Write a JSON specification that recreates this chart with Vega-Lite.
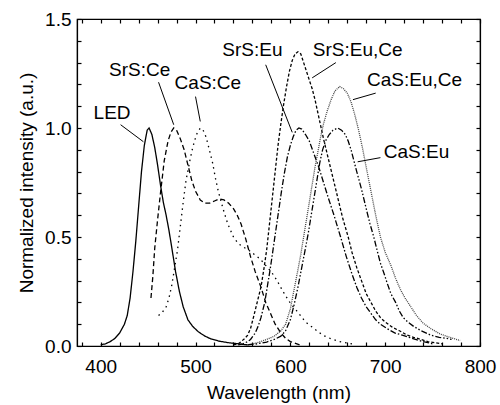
{
  "$schema": "https://vega.github.io/schema/vega-lite/v6.json",
  "width": 403,
  "height": 327,
  "autosize": {"type": "none"},
  "padding": {"left": 77, "top": 19, "right": 20, "bottom": 59},
  "background": "white",
  "config": {
    "view": {"stroke": "black", "strokeWidth": 1.2},
    "axis": {
      "grid": false,
      "labelFont": "Liberation Sans",
      "labelFontSize": 19,
      "labelColor": "black",
      "titleFont": "Liberation Sans",
      "titleFontSize": 19,
      "titleFontWeight": "normal",
      "titleColor": "black",
      "domainColor": "black",
      "domainWidth": 1.2,
      "tickColor": "black",
      "tickWidth": 1.2,
      "tickSize": -4
    },
    "text": {"font": "Liberation Sans", "fontSize": 19, "color": "black"}
  },
  "datasets": {
    "curves": [
      {"s": "LED", "w": 400, "v": 0.005}, {"s": "LED", "w": 405, "v": 0.01}, {"s": "LED", "w": 410, "v": 0.02}, {"s": "LED", "w": 415, "v": 0.035}, {"s": "LED", "w": 420, "v": 0.06}, {"s": "LED", "w": 425, "v": 0.1}, {"s": "LED", "w": 428, "v": 0.14}, {"s": "LED", "w": 431, "v": 0.22}, {"s": "LED", "w": 434, "v": 0.34}, {"s": "LED", "w": 437, "v": 0.48}, {"s": "LED", "w": 440, "v": 0.64}, {"s": "LED", "w": 443, "v": 0.8}, {"s": "LED", "w": 446, "v": 0.92}, {"s": "LED", "w": 449, "v": 0.99}, {"s": "LED", "w": 451, "v": 1.0}, {"s": "LED", "w": 454, "v": 0.97}, {"s": "LED", "w": 457, "v": 0.91}, {"s": "LED", "w": 460, "v": 0.83}, {"s": "LED", "w": 463, "v": 0.74}, {"s": "LED", "w": 466, "v": 0.66}, {"s": "LED", "w": 469, "v": 0.6}, {"s": "LED", "w": 472, "v": 0.53}, {"s": "LED", "w": 475, "v": 0.45}, {"s": "LED", "w": 479, "v": 0.34}, {"s": "LED", "w": 483, "v": 0.25}, {"s": "LED", "w": 487, "v": 0.18}, {"s": "LED", "w": 492, "v": 0.12}, {"s": "LED", "w": 497, "v": 0.09}, {"s": "LED", "w": 503, "v": 0.065}, {"s": "LED", "w": 510, "v": 0.045}, {"s": "LED", "w": 516, "v": 0.033}, {"s": "LED", "w": 525, "v": 0.022}, {"s": "LED", "w": 535, "v": 0.015}, {"s": "LED", "w": 545, "v": 0.01}, {"s": "LED", "w": 555, "v": 0.005},

      {"s": "SrS:Ce", "w": 453, "v": 0.22}, {"s": "SrS:Ce", "w": 455, "v": 0.32}, {"s": "SrS:Ce", "w": 457, "v": 0.45}, {"s": "SrS:Ce", "w": 460, "v": 0.58}, {"s": "SrS:Ce", "w": 463, "v": 0.7}, {"s": "SrS:Ce", "w": 467, "v": 0.85}, {"s": "SrS:Ce", "w": 471, "v": 0.94}, {"s": "SrS:Ce", "w": 474, "v": 0.98}, {"s": "SrS:Ce", "w": 477, "v": 1.0}, {"s": "SrS:Ce", "w": 480, "v": 0.99}, {"s": "SrS:Ce", "w": 484, "v": 0.95}, {"s": "SrS:Ce", "w": 488, "v": 0.9}, {"s": "SrS:Ce", "w": 492, "v": 0.83}, {"s": "SrS:Ce", "w": 496, "v": 0.76}, {"s": "SrS:Ce", "w": 500, "v": 0.71}, {"s": "SrS:Ce", "w": 505, "v": 0.67}, {"s": "SrS:Ce", "w": 510, "v": 0.655}, {"s": "SrS:Ce", "w": 515, "v": 0.655}, {"s": "SrS:Ce", "w": 520, "v": 0.665}, {"s": "SrS:Ce", "w": 525, "v": 0.675}, {"s": "SrS:Ce", "w": 530, "v": 0.67}, {"s": "SrS:Ce", "w": 535, "v": 0.655}, {"s": "SrS:Ce", "w": 540, "v": 0.63}, {"s": "SrS:Ce", "w": 544, "v": 0.6}, {"s": "SrS:Ce", "w": 548, "v": 0.56}, {"s": "SrS:Ce", "w": 553, "v": 0.49}, {"s": "SrS:Ce", "w": 558, "v": 0.41}, {"s": "SrS:Ce", "w": 563, "v": 0.34}, {"s": "SrS:Ce", "w": 569, "v": 0.27}, {"s": "SrS:Ce", "w": 574, "v": 0.2}, {"s": "SrS:Ce", "w": 579, "v": 0.15}, {"s": "SrS:Ce", "w": 584, "v": 0.1}, {"s": "SrS:Ce", "w": 590, "v": 0.06}, {"s": "SrS:Ce", "w": 595, "v": 0.035}, {"s": "SrS:Ce", "w": 600, "v": 0.02}, {"s": "SrS:Ce", "w": 610, "v": 0.005},

      {"s": "CaS:Ce", "w": 461, "v": 0.14}, {"s": "CaS:Ce", "w": 465, "v": 0.155}, {"s": "CaS:Ce", "w": 469, "v": 0.18}, {"s": "CaS:Ce", "w": 472, "v": 0.22}, {"s": "CaS:Ce", "w": 475, "v": 0.28}, {"s": "CaS:Ce", "w": 478, "v": 0.36}, {"s": "CaS:Ce", "w": 481, "v": 0.44}, {"s": "CaS:Ce", "w": 484, "v": 0.55}, {"s": "CaS:Ce", "w": 487, "v": 0.66}, {"s": "CaS:Ce", "w": 490, "v": 0.76}, {"s": "CaS:Ce", "w": 494, "v": 0.85}, {"s": "CaS:Ce", "w": 497, "v": 0.91}, {"s": "CaS:Ce", "w": 501, "v": 0.97}, {"s": "CaS:Ce", "w": 505, "v": 1.0}, {"s": "CaS:Ce", "w": 508, "v": 0.99}, {"s": "CaS:Ce", "w": 511, "v": 0.96}, {"s": "CaS:Ce", "w": 514, "v": 0.91}, {"s": "CaS:Ce", "w": 518, "v": 0.84}, {"s": "CaS:Ce", "w": 521, "v": 0.77}, {"s": "CaS:Ce", "w": 524, "v": 0.71}, {"s": "CaS:Ce", "w": 529, "v": 0.63}, {"s": "CaS:Ce", "w": 534, "v": 0.56}, {"s": "CaS:Ce", "w": 540, "v": 0.5}, {"s": "CaS:Ce", "w": 545, "v": 0.47}, {"s": "CaS:Ce", "w": 550, "v": 0.455}, {"s": "CaS:Ce", "w": 556, "v": 0.44}, {"s": "CaS:Ce", "w": 562, "v": 0.42}, {"s": "CaS:Ce", "w": 568, "v": 0.4}, {"s": "CaS:Ce", "w": 574, "v": 0.37}, {"s": "CaS:Ce", "w": 580, "v": 0.34}, {"s": "CaS:Ce", "w": 586, "v": 0.3}, {"s": "CaS:Ce", "w": 591, "v": 0.26}, {"s": "CaS:Ce", "w": 595, "v": 0.23}, {"s": "CaS:Ce", "w": 601, "v": 0.19}, {"s": "CaS:Ce", "w": 607, "v": 0.16}, {"s": "CaS:Ce", "w": 616, "v": 0.11}, {"s": "CaS:Ce", "w": 625, "v": 0.08}, {"s": "CaS:Ce", "w": 634, "v": 0.05}, {"s": "CaS:Ce", "w": 642, "v": 0.035}, {"s": "CaS:Ce", "w": 652, "v": 0.02}, {"s": "CaS:Ce", "w": 665, "v": 0.01},

      {"s": "SrS:Eu", "w": 545, "v": 0.005}, {"s": "SrS:Eu", "w": 550, "v": 0.01}, {"s": "SrS:Eu", "w": 555, "v": 0.02}, {"s": "SrS:Eu", "w": 558, "v": 0.03}, {"s": "SrS:Eu", "w": 563, "v": 0.06}, {"s": "SrS:Eu", "w": 566, "v": 0.09}, {"s": "SrS:Eu", "w": 569, "v": 0.13}, {"s": "SrS:Eu", "w": 573, "v": 0.2}, {"s": "SrS:Eu", "w": 576, "v": 0.28}, {"s": "SrS:Eu", "w": 579, "v": 0.36}, {"s": "SrS:Eu", "w": 582, "v": 0.45}, {"s": "SrS:Eu", "w": 585, "v": 0.54}, {"s": "SrS:Eu", "w": 588, "v": 0.63}, {"s": "SrS:Eu", "w": 591, "v": 0.72}, {"s": "SrS:Eu", "w": 594, "v": 0.8}, {"s": "SrS:Eu", "w": 597, "v": 0.87}, {"s": "SrS:Eu", "w": 600, "v": 0.92}, {"s": "SrS:Eu", "w": 603, "v": 0.96}, {"s": "SrS:Eu", "w": 606, "v": 0.99}, {"s": "SrS:Eu", "w": 609, "v": 1.0}, {"s": "SrS:Eu", "w": 612, "v": 0.995}, {"s": "SrS:Eu", "w": 616, "v": 0.97}, {"s": "SrS:Eu", "w": 620, "v": 0.94}, {"s": "SrS:Eu", "w": 625, "v": 0.88}, {"s": "SrS:Eu", "w": 630, "v": 0.82}, {"s": "SrS:Eu", "w": 635, "v": 0.75}, {"s": "SrS:Eu", "w": 640, "v": 0.68}, {"s": "SrS:Eu", "w": 646, "v": 0.6}, {"s": "SrS:Eu", "w": 653, "v": 0.5}, {"s": "SrS:Eu", "w": 659, "v": 0.41}, {"s": "SrS:Eu", "w": 665, "v": 0.33}, {"s": "SrS:Eu", "w": 670, "v": 0.27}, {"s": "SrS:Eu", "w": 675, "v": 0.22}, {"s": "SrS:Eu", "w": 680, "v": 0.18}, {"s": "SrS:Eu", "w": 685, "v": 0.15}, {"s": "SrS:Eu", "w": 690, "v": 0.12}, {"s": "SrS:Eu", "w": 695, "v": 0.1}, {"s": "SrS:Eu", "w": 702, "v": 0.08}, {"s": "SrS:Eu", "w": 710, "v": 0.06}, {"s": "SrS:Eu", "w": 718, "v": 0.05}, {"s": "SrS:Eu", "w": 725, "v": 0.04}, {"s": "SrS:Eu", "w": 732, "v": 0.03}, {"s": "SrS:Eu", "w": 740, "v": 0.02}, {"s": "SrS:Eu", "w": 750, "v": 0.01},

      {"s": "SrS:Eu,Ce", "w": 540, "v": 0.005}, {"s": "SrS:Eu,Ce", "w": 545, "v": 0.01}, {"s": "SrS:Eu,Ce", "w": 548, "v": 0.02}, {"s": "SrS:Eu,Ce", "w": 552, "v": 0.035}, {"s": "SrS:Eu,Ce", "w": 555, "v": 0.05}, {"s": "SrS:Eu,Ce", "w": 558, "v": 0.08}, {"s": "SrS:Eu,Ce", "w": 561, "v": 0.13}, {"s": "SrS:Eu,Ce", "w": 565, "v": 0.2}, {"s": "SrS:Eu,Ce", "w": 569, "v": 0.27}, {"s": "SrS:Eu,Ce", "w": 572, "v": 0.35}, {"s": "SrS:Eu,Ce", "w": 575, "v": 0.44}, {"s": "SrS:Eu,Ce", "w": 578, "v": 0.56}, {"s": "SrS:Eu,Ce", "w": 581, "v": 0.68}, {"s": "SrS:Eu,Ce", "w": 584, "v": 0.8}, {"s": "SrS:Eu,Ce", "w": 587, "v": 0.92}, {"s": "SrS:Eu,Ce", "w": 590, "v": 1.02}, {"s": "SrS:Eu,Ce", "w": 593, "v": 1.11}, {"s": "SrS:Eu,Ce", "w": 596, "v": 1.19}, {"s": "SrS:Eu,Ce", "w": 599, "v": 1.26}, {"s": "SrS:Eu,Ce", "w": 602, "v": 1.31}, {"s": "SrS:Eu,Ce", "w": 605, "v": 1.34}, {"s": "SrS:Eu,Ce", "w": 608, "v": 1.35}, {"s": "SrS:Eu,Ce", "w": 611, "v": 1.34}, {"s": "SrS:Eu,Ce", "w": 614, "v": 1.3}, {"s": "SrS:Eu,Ce", "w": 617, "v": 1.26}, {"s": "SrS:Eu,Ce", "w": 620, "v": 1.22}, {"s": "SrS:Eu,Ce", "w": 623, "v": 1.18}, {"s": "SrS:Eu,Ce", "w": 626, "v": 1.13}, {"s": "SrS:Eu,Ce", "w": 629, "v": 1.07}, {"s": "SrS:Eu,Ce", "w": 632, "v": 1.01}, {"s": "SrS:Eu,Ce", "w": 635, "v": 0.95}, {"s": "SrS:Eu,Ce", "w": 640, "v": 0.86}, {"s": "SrS:Eu,Ce", "w": 645, "v": 0.77}, {"s": "SrS:Eu,Ce", "w": 650, "v": 0.68}, {"s": "SrS:Eu,Ce", "w": 655, "v": 0.59}, {"s": "SrS:Eu,Ce", "w": 661, "v": 0.5}, {"s": "SrS:Eu,Ce", "w": 665, "v": 0.43}, {"s": "SrS:Eu,Ce", "w": 670, "v": 0.36}, {"s": "SrS:Eu,Ce", "w": 675, "v": 0.3}, {"s": "SrS:Eu,Ce", "w": 680, "v": 0.24}, {"s": "SrS:Eu,Ce", "w": 685, "v": 0.2}, {"s": "SrS:Eu,Ce", "w": 690, "v": 0.16}, {"s": "SrS:Eu,Ce", "w": 695, "v": 0.13}, {"s": "SrS:Eu,Ce", "w": 700, "v": 0.11}, {"s": "SrS:Eu,Ce", "w": 708, "v": 0.085}, {"s": "SrS:Eu,Ce", "w": 715, "v": 0.07}, {"s": "SrS:Eu,Ce", "w": 723, "v": 0.05}, {"s": "SrS:Eu,Ce", "w": 730, "v": 0.04}, {"s": "SrS:Eu,Ce", "w": 738, "v": 0.03}, {"s": "SrS:Eu,Ce", "w": 745, "v": 0.02}, {"s": "SrS:Eu,Ce", "w": 760, "v": 0.01},

      {"s": "CaS:Eu,Ce", "w": 555, "v": 0.005}, {"s": "CaS:Eu,Ce", "w": 565, "v": 0.015}, {"s": "CaS:Eu,Ce", "w": 575, "v": 0.03}, {"s": "CaS:Eu,Ce", "w": 583, "v": 0.045}, {"s": "CaS:Eu,Ce", "w": 590, "v": 0.07}, {"s": "CaS:Eu,Ce", "w": 595, "v": 0.1}, {"s": "CaS:Eu,Ce", "w": 600, "v": 0.17}, {"s": "CaS:Eu,Ce", "w": 604, "v": 0.26}, {"s": "CaS:Eu,Ce", "w": 608, "v": 0.35}, {"s": "CaS:Eu,Ce", "w": 611, "v": 0.42}, {"s": "CaS:Eu,Ce", "w": 614, "v": 0.5}, {"s": "CaS:Eu,Ce", "w": 617, "v": 0.58}, {"s": "CaS:Eu,Ce", "w": 620, "v": 0.66}, {"s": "CaS:Eu,Ce", "w": 623, "v": 0.74}, {"s": "CaS:Eu,Ce", "w": 626, "v": 0.82}, {"s": "CaS:Eu,Ce", "w": 629, "v": 0.89}, {"s": "CaS:Eu,Ce", "w": 632, "v": 0.96}, {"s": "CaS:Eu,Ce", "w": 635, "v": 1.02}, {"s": "CaS:Eu,Ce", "w": 639, "v": 1.08}, {"s": "CaS:Eu,Ce", "w": 643, "v": 1.13}, {"s": "CaS:Eu,Ce", "w": 647, "v": 1.17}, {"s": "CaS:Eu,Ce", "w": 652, "v": 1.19}, {"s": "CaS:Eu,Ce", "w": 656, "v": 1.18}, {"s": "CaS:Eu,Ce", "w": 660, "v": 1.16}, {"s": "CaS:Eu,Ce", "w": 664, "v": 1.12}, {"s": "CaS:Eu,Ce", "w": 668, "v": 1.06}, {"s": "CaS:Eu,Ce", "w": 672, "v": 0.99}, {"s": "CaS:Eu,Ce", "w": 676, "v": 0.91}, {"s": "CaS:Eu,Ce", "w": 680, "v": 0.82}, {"s": "CaS:Eu,Ce", "w": 685, "v": 0.71}, {"s": "CaS:Eu,Ce", "w": 690, "v": 0.6}, {"s": "CaS:Eu,Ce", "w": 695, "v": 0.5}, {"s": "CaS:Eu,Ce", "w": 700, "v": 0.43}, {"s": "CaS:Eu,Ce", "w": 706, "v": 0.37}, {"s": "CaS:Eu,Ce", "w": 711, "v": 0.31}, {"s": "CaS:Eu,Ce", "w": 716, "v": 0.26}, {"s": "CaS:Eu,Ce", "w": 721, "v": 0.22}, {"s": "CaS:Eu,Ce", "w": 727, "v": 0.18}, {"s": "CaS:Eu,Ce", "w": 733, "v": 0.14}, {"s": "CaS:Eu,Ce", "w": 740, "v": 0.105}, {"s": "CaS:Eu,Ce", "w": 748, "v": 0.08}, {"s": "CaS:Eu,Ce", "w": 758, "v": 0.055}, {"s": "CaS:Eu,Ce", "w": 768, "v": 0.04}, {"s": "CaS:Eu,Ce", "w": 779, "v": 0.025},

      {"s": "CaS:Eu", "w": 555, "v": 0.005}, {"s": "CaS:Eu", "w": 565, "v": 0.01}, {"s": "CaS:Eu", "w": 575, "v": 0.018}, {"s": "CaS:Eu", "w": 583, "v": 0.03}, {"s": "CaS:Eu", "w": 590, "v": 0.045}, {"s": "CaS:Eu", "w": 595, "v": 0.07}, {"s": "CaS:Eu", "w": 600, "v": 0.12}, {"s": "CaS:Eu", "w": 604, "v": 0.19}, {"s": "CaS:Eu", "w": 608, "v": 0.27}, {"s": "CaS:Eu", "w": 612, "v": 0.36}, {"s": "CaS:Eu", "w": 616, "v": 0.45}, {"s": "CaS:Eu", "w": 619, "v": 0.52}, {"s": "CaS:Eu", "w": 622, "v": 0.6}, {"s": "CaS:Eu", "w": 625, "v": 0.68}, {"s": "CaS:Eu", "w": 628, "v": 0.76}, {"s": "CaS:Eu", "w": 631, "v": 0.84}, {"s": "CaS:Eu", "w": 634, "v": 0.9}, {"s": "CaS:Eu", "w": 637, "v": 0.94}, {"s": "CaS:Eu", "w": 641, "v": 0.97}, {"s": "CaS:Eu", "w": 645, "v": 0.99}, {"s": "CaS:Eu", "w": 650, "v": 1.0}, {"s": "CaS:Eu", "w": 654, "v": 0.99}, {"s": "CaS:Eu", "w": 658, "v": 0.97}, {"s": "CaS:Eu", "w": 661, "v": 0.94}, {"s": "CaS:Eu", "w": 664, "v": 0.9}, {"s": "CaS:Eu", "w": 667, "v": 0.85}, {"s": "CaS:Eu", "w": 670, "v": 0.8}, {"s": "CaS:Eu", "w": 675, "v": 0.72}, {"s": "CaS:Eu", "w": 680, "v": 0.63}, {"s": "CaS:Eu", "w": 684, "v": 0.56}, {"s": "CaS:Eu", "w": 688, "v": 0.5}, {"s": "CaS:Eu", "w": 692, "v": 0.43}, {"s": "CaS:Eu", "w": 695, "v": 0.38}, {"s": "CaS:Eu", "w": 699, "v": 0.33}, {"s": "CaS:Eu", "w": 702, "v": 0.29}, {"s": "CaS:Eu", "w": 706, "v": 0.24}, {"s": "CaS:Eu", "w": 711, "v": 0.2}, {"s": "CaS:Eu", "w": 715, "v": 0.16}, {"s": "CaS:Eu", "w": 719, "v": 0.13}, {"s": "CaS:Eu", "w": 724, "v": 0.11}, {"s": "CaS:Eu", "w": 730, "v": 0.09}, {"s": "CaS:Eu", "w": 738, "v": 0.07}, {"s": "CaS:Eu", "w": 748, "v": 0.05}, {"s": "CaS:Eu", "w": 757, "v": 0.04}, {"s": "CaS:Eu", "w": 765, "v": 0.035}, {"s": "CaS:Eu", "w": 770, "v": 0.03}
    ],
    "labels": [
      {"label": "LED", "w": 412, "v": 1.07},
      {"label": "SrS:Ce", "w": 441, "v": 1.268},
      {"label": "CaS:Ce", "w": 513, "v": 1.208},
      {"label": "SrS:Eu", "w": 560, "v": 1.36},
      {"label": "SrS:Eu,Ce", "w": 671, "v": 1.36},
      {"label": "CaS:Eu,Ce", "w": 731, "v": 1.22},
      {"label": "CaS:Eu", "w": 733, "v": 0.89}
    ],
    "arrows": [
      {"w": 421, "v": 1.015, "w2": 445, "v2": 0.937},
      {"w": 461, "v": 1.21, "w2": 477, "v2": 1.015},
      {"w": 500, "v": 1.144, "w2": 505, "v2": 1.03},
      {"w": 574, "v": 1.29, "w2": 602, "v2": 0.98},
      {"w": 648, "v": 1.3, "w2": 623, "v2": 1.23},
      {"w": 690, "v": 1.16, "w2": 666, "v2": 1.13},
      {"w": 695, "v": 0.864, "w2": 671, "v2": 0.845}
    ]
  },
  "layer": [
    {
      "data": {"name": "curves"},
      "mark": {"type": "line", "clip": true},
      "encoding": {
        "x": {
          "field": "w", "type": "quantitative",
          "scale": {"domain": [375, 800], "nice": false, "zero": false},
          "axis": {
            "orient": "bottom",
            "title": "Wavelength (nm)",
            "values": [380, 400, 420, 440, 460, 480, 500, 520, 540, 560, 580, 600, 620, 640, 660, 680, 700, 720, 740, 760, 780, 800],
            "labelExpr": "datum.value % 100 === 0 ? datum.label : ''",
            "labelPadding": 15,
            "labelFlush": false,
            "labelOverlap": false,
            "titlePadding": 7
          }
        },
        "y": {
          "field": "v", "type": "quantitative",
          "scale": {"domain": [0, 1.5], "nice": false},
          "axis": {
            "orient": "left",
            "title": "Normalized intensity (a.u.)",
            "values": [0, 0.1, 0.2, 0.3, 0.4, 0.5, 0.6, 0.7, 0.8, 0.9, 1.0, 1.1, 1.2, 1.3, 1.4, 1.5],
            "labelExpr": "round(datum.value * 10) % 5 === 0 ? format(datum.value, '.1f') : ''",
            "labelPadding": 10,
            "labelFlush": false,
            "labelOverlap": false,
            "titlePadding": 8
          }
        },
        "detail": {"field": "s", "type": "nominal"},
        "strokeDash": {
          "field": "s", "type": "nominal", "legend": null,
          "scale": {
            "domain": ["LED", "SrS:Ce", "CaS:Ce", "SrS:Eu", "SrS:Eu,Ce", "CaS:Eu,Ce", "CaS:Eu"],
            "range": [[1, 0], [5, 3], [1.5, 4], [6, 2, 1.5, 2], [3, 2], [1, 1], [6, 2, 1.5, 2, 1.5, 2]]
          }
        },
        "strokeWidth": {
          "field": "s", "type": "nominal", "legend": null,
          "scale": {
            "domain": ["LED", "SrS:Ce", "CaS:Ce", "SrS:Eu", "SrS:Eu,Ce", "CaS:Eu,Ce", "CaS:Eu"],
            "range": [1.3, 1.3, 1.5, 1.5, 1.7, 1, 1.5]
          }
        },
        "color": {
          "field": "s", "type": "nominal", "legend": null,
          "scale": {
            "domain": ["LED", "SrS:Ce", "CaS:Ce", "SrS:Eu", "SrS:Eu,Ce", "CaS:Eu,Ce", "CaS:Eu"],
            "range": ["#000000", "#000000", "#000000", "#000000", "#000000", "#444444", "#000000"]
          }
        }
      }
    },
    {
      "data": {"name": "arrows"},
      "mark": {"type": "rule", "color": "black", "strokeWidth": 1},
      "encoding": {
        "x": {
          "field": "w", "type": "quantitative",
          "scale": {"domain": [375, 800], "nice": false, "zero": false},
          "axis": {
            "orient": "top",
            "title": null,
            "values": [380, 400, 420, 440, 460, 480, 500, 520, 540, 560, 580, 600, 620, 640, 660, 680, 700, 720, 740, 760, 780, 800],
            "labels": false
          }
        },
        "y": {
          "field": "v", "type": "quantitative",
          "scale": {"domain": [0, 1.5], "nice": false},
          "axis": {
            "orient": "right",
            "title": null,
            "values": [0, 0.1, 0.2, 0.3, 0.4, 0.5, 0.6, 0.7, 0.8, 0.9, 1.0, 1.1, 1.2, 1.3, 1.4, 1.5],
            "labels": false
          }
        },
        "x2": {"field": "w2"},
        "y2": {"field": "v2"}
      }
    },
    {
      "data": {"name": "labels"},
      "mark": {"type": "text", "align": "center", "baseline": "middle"},
      "encoding": {
        "x": {"field": "w", "type": "quantitative", "axis": null},
        "y": {"field": "v", "type": "quantitative", "axis": null},
        "text": {"field": "label", "type": "nominal"}
      }
    }
  ],
  "resolve": {"axis": {"x": "independent", "y": "independent"}}
}
